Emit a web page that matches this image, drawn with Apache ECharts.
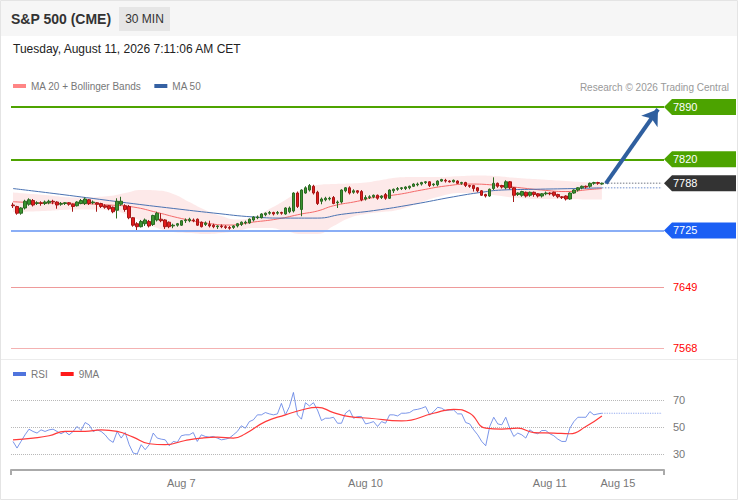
<!DOCTYPE html>
<html>
<head>
<meta charset="utf-8">
<script src="https://cdn.jsdelivr.net/npm/echarts@6/dist/echarts.min.js"></script>
<style>html,body{margin:0;padding:0;background:#fff}#c{width:738px;height:500px}</style>
</head>
<body>
<div id="c"></div>
<script>
const FONT = "'Liberation Sans', Arial, Helvetica, sans-serif";

// x axis
const categoryCount = 163;
const xTickIndex = [42, 88, 134, 151];
const xTickLabels = ['Aug 7', 'Aug 10', 'Aug 11', 'Aug 15'];

// candles: [open, close, low, high]
const candles = [
  [7759,7758,7755,7762],[7757,7748,7746,7758],[7748,7755,7746,7756],[7755,7764,7753,7766],[7760,7766,7758,7768],
  [7765,7759,7757,7767],[7761,7762,7759,7764],[7762,7761,7758,7764],[7761,7763,7759,7765],[7762,7764,7760,7766],
  [7764,7763,7760,7766],[7763,7759,7754,7764],[7760,7761,7758,7763],[7761,7762,7759,7763],[7762,7760,7758,7763],
  [7760,7757,7750,7761],[7758,7763,7757,7764],[7761,7765,7760,7767],[7761,7767,7759,7769],[7766,7761,7759,7767],
  [7762,7763,7760,7765],[7762,7760,7750,7763],[7761,7757,7755,7762],[7758,7756,7754,7760],[7758,7754,7752,7759],
  [7756,7750,7748,7757],[7752,7764,7741,7768],[7760,7764,7758,7770],[7758,7753,7750,7760],[7757,7742,7740,7759],
  [7742,7732,7730,7743],[7734,7730,7723,7736],[7730,7737,7729,7739],[7734,7739,7731,7741],[7737,7731,7729,7739],
  [7733,7745,7731,7746],[7739,7748,7737,7750],[7740,7738,7736,7748],[7739,7730,7727,7740],[7736,7730,7728,7737],
  [7731,7732,7728,7734],[7732,7734,7730,7735],[7732,7738,7731,7739],[7738,7739,7735,7741],[7738,7740,7736,7742],
  [7739,7738,7736,7741],[7740,7732,7731,7741],[7736,7730,7729,7737],[7733,7735,7731,7737],[7733,7731,7729,7738],
  [7732,7730,7728,7734],[7730,7731,7727,7732],[7731,7730,7728,7733],[7730,7729,7727,7732],[7729,7728,7726,7731],
  [7729,7731,7727,7732],[7731,7734,7729,7735],[7733,7736,7731,7737],[7735,7736,7733,7738],[7735,7740,7734,7741],
  [7739,7743,7737,7744],[7742,7743,7740,7745],[7742,7747,7741,7748],[7746,7748,7744,7749],[7748,7749,7746,7751],
  [7749,7747,7745,7750],[7748,7749,7746,7751],[7749,7748,7746,7750],[7747,7755,7746,7756],[7750,7755,7748,7757],
  [7751,7775,7749,7776],[7775,7757,7755,7777],[7753,7779,7744,7780],[7775,7782,7774,7784],[7779,7785,7777,7787],
  [7784,7775,7773,7786],[7776,7761,7759,7778],[7764,7767,7760,7769],[7766,7768,7764,7770],[7767,7768,7765,7770],
  [7769,7761,7760,7771],[7762,7763,7755,7765],[7763,7779,7761,7780],[7778,7782,7776,7783],[7782,7775,7773,7784],
  [7776,7778,7774,7780],[7778,7776,7774,7779],[7777,7766,7764,7779],[7767,7769,7765,7772],[7769,7770,7767,7772],
  [7770,7772,7768,7773],[7772,7768,7766,7773],[7769,7771,7767,7772],[7773,7768,7766,7775],[7768,7779,7767,7780],
  [7778,7780,7775,7781],[7780,7781,7778,7783],[7781,7782,7779,7783],[7781,7783,7779,7784],[7782,7784,7780,7785],
  [7784,7787,7783,7788],[7786,7787,7784,7789],[7787,7789,7785,7790],[7789,7790,7787,7791],[7790,7785,7783,7791],
  [7786,7787,7784,7788],[7786,7791,7784,7792],[7791,7793,7790,7794],[7792,7791,7789,7794],[7791,7790,7789,7792],
  [7790,7792,7789,7793],[7791,7788,7787,7792],[7788,7789,7786,7790],[7789,7785,7783,7790],[7785,7784,7782,7786],
  [7785,7781,7777,7786],[7782,7778,7776,7783],[7778,7772,7771,7779],[7773,7771,7769,7774],[7771,7780,7770,7781],
  [7781,7788,7779,7796],[7788,7784,7782,7789],[7785,7783,7781,7786],[7782,7790,7780,7792],[7790,7782,7780,7791],
  [7782,7772,7763,7783],[7773,7775,7771,7776],[7772,7777,7770,7778],[7776,7771,7769,7777],[7772,7776,7770,7777],
  [7776,7773,7770,7777],[7774,7771,7769,7775],[7771,7774,7769,7775],[7774,7775,7772,7777],[7775,7774,7772,7776],
  [7776,7772,7770,7777],[7773,7770,7768,7774],[7770,7769,7767,7771],[7771,7767,7765,7772],[7767,7775,7766,7776],
  [7775,7779,7774,7780],[7779,7782,7777,7783],[7782,7784,7780,7785],[7784,7783,7781,7785],[7784,7788,7782,7789],
  [7788,7789,7786,7790],[7789,7788,7786,7790],[7787,7788,7786,7789]
];

// Bollinger bands (sampled)
const bandIdx   = [0,8,16,24,28,32,36,40,44,48,52,56,60,64,68,72,76,80,84,88,92,96,100,106,112,116,120,126,132,138,144,147];
const bandUpper = [7775.7,7772.3,7769.0,7771.0,7775.0,7779.0,7778.4,7773.7,7763.0,7752.3,7744.3,7739.6,7742.9,7753.6,7765.7,7779.0,7785.7,7787.0,7787.7,7789.1,7792.4,7795.7,7796.4,7796.4,7797.7,7798.4,7797.7,7795.1,7793.1,7791.1,7789.1,7788.4];
const bandLower = [7749.6,7751.0,7753.0,7752.3,7746.9,7737.6,7728.2,7722.9,7721.5,7720.2,7721.5,7724.2,7728.2,7728.2,7724.2,7720.2,7720.2,7730.9,7741.6,7746.9,7749.6,7752.3,7759.0,7769.7,7775.0,7775.0,7772.3,7768.3,7767.0,7767.0,7766.3,7766.3];

// MA 20
const ma20Idx = [0,8,16,24,30,36,42,48,54,60,66,72,76,80,86,90,96,102,108,114,120,126,132,138,144,147];
const ma20Val = [7763.4,7761.6,7761,7759,7756.3,7749,7741,7735,7732.2,7736.2,7740.3,7747,7751,7758,7764,7769,7773,7779,7784.4,7787,7785.7,7782.4,7779,7777,7779.7,7781];

// MA 50
const ma50Idx = [0,10,20,30,40,50,60,68,76,82,90,100,110,117,122,130,140,147];
const ma50Val = [7781,7774.5,7767.7,7760.8,7754.4,7748.3,7743,7741.5,7741.5,7746.5,7751.5,7760,7770,7776,7779,7780,7781,7782];

// RSI
const rsi = [
  39.3,34.4,39.3,44.2,48.4,46.7,45.5,47.9,46.7,47.9,
  48.4,46.7,45,46.7,44.2,46.7,50.4,47.4,53.3,51.6,
  46.7,47.9,46.7,44.2,40.5,38.6,46.7,41.8,45.9,36.9,
  30.7,30,36.9,33.2,36.9,45.5,41.8,41,40.5,36.1,
  39.3,38.6,43.5,44.2,44.2,45.9,39.3,44.2,43,42.5,
  43,41.8,40.5,41,41.8,44.2,46.7,50.9,49.1,54,
  55.3,59,59,60.7,59.7,59,59.7,67.5,59,65.1,
  75.6,59,55.8,68,65.6,68,62.6,54.8,56.5,56.5,
  57.2,52.8,52.8,60.2,62.6,56.5,57.7,57.7,52.3,53,
  54,50.4,54,52.8,59,59,58.2,60.2,60.2,60.7,
  62.6,63.1,63.9,65.1,59,61.4,64.6,63.9,62.1,62.6,
  62.6,59.7,59.7,53.3,52.3,47.9,44.2,39.3,36.1,50.4,
  57.2,52.3,51.6,57.2,49.1,43,45.5,44.2,41.8,47.9,
  45.9,45,47.4,47.4,45,43.5,41,39.3,39.3,49.1,
  54,57.2,57.2,57.2,61.4,59,59.7,60.2
];
const rsiMaIdx = [0,5,9,13,18,22,26,30,34,38,43,47,51,55,58,63,68,72,76,80,84,89,97,105,110,114,118,122,126,130,135,139,143,147];
const rsiMaVal = [40.5,41.8,43.5,46.7,46.7,47.9,46.7,42.5,37.6,36.9,40,41.8,42.5,41.8,45,54,59,62.6,64.6,60.7,57.7,56.5,54.5,60.2,63.1,60.2,49.1,48.4,49.1,45.9,45.5,45,50.4,58.2];

// projections / levels
const extIdx = [147, 162];
const lastPrice = 7788;
const ma50Last = 7782;
const rsiLast = 60.2;
const arrowFrom = [148, 7788];
const arrowTo = [161, 7887];
const tagLevels = [7890, 7820, 7788, 7725];
const tagColors = ['#4ca300', '#4ca300', '#333333', '#1b5ff4'];
const lineLevels = [7890, 7820, 7725];
const lineColors = ['#4ea300', '#4ea300', '#8aaef6'];
const redLevels = [7649, 7568];
const redLineColors = ['#ee9a9a', '#f4b2b2'];

const cats = [];
for (let i = 0; i < categoryCount; i++) cats.push('c' + i);
const pair = (idx, vals) => idx.map((x, k) => [x, vals[k]]);
const bandWidth = bandUpper.map((u, k) => +(u - bandLower[k]).toFixed(2));

const TAG = 'path://M0,8L8,0L72,0L72,16L8,16Z';

const chart = echarts.init(document.getElementById('c'), null, {renderer: 'svg'});
const option = {
  animation: false,
  backgroundColor: '#ffffff',
  textStyle: {fontFamily: FONT},
  graphic: [
    {type: 'rect', z: -10, shape: {x: 0.5, y: 0.5, width: 737, height: 499}, style: {fill: '#ffffff', stroke: '#e4e4e4', lineWidth: 1}},
    {type: 'rect', z: -9, shape: {x: 1, y: 1, width: 736, height: 35}, style: {fill: '#f6f6f6'}},
    {type: 'rect', z: -8, shape: {x: 119, y: 7, width: 51, height: 24}, style: {fill: '#e6e6e6'}},
    {type: 'text', x: 11, y: 19, style: {text: 'S&P 500 (CME)', fill: '#333333', fontSize: 14, fontWeight: 'bold', fontFamily: FONT, verticalAlign: 'middle'}},
    {type: 'text', x: 144.5, y: 19, style: {text: '30 MIN', fill: '#333333', fontSize: 12, fontFamily: FONT, align: 'center', verticalAlign: 'middle'}},
    {type: 'text', x: 13, y: 49, style: {text: 'Tuesday, August 11, 2026 7:11:06 AM CET', fill: '#222222', fontSize: 12, fontFamily: FONT, verticalAlign: 'middle'}},
    {type: 'text', x: 729, y: 87, style: {text: 'Research \u00a9 2026 Trading Central', fill: '#999999', fontSize: 10, fontFamily: FONT, align: 'right', verticalAlign: 'middle'}},
    {type: 'line', z: -7, shape: {x1: 1, y1: 359.5, x2: 737, y2: 359.5}, style: {stroke: '#ececec', lineWidth: 1}}
  ],
  legend: [
    {data: ['MA 20 + Bollinger Bands', 'MA 50'], left: 13, top: 81, padding: 0, itemGap: 13, itemWidth: 13, itemHeight: 4,
     icon: 'rect', selectedMode: false, textStyle: {color: '#777777', fontSize: 10, fontFamily: FONT}},
    {data: ['RSI', '9MA'], left: 13, top: 369, padding: 0, itemGap: 13, itemWidth: 13, itemHeight: 4,
     icon: 'rect', selectedMode: false, textStyle: {color: '#777777', fontSize: 10, fontFamily: FONT}}
  ],
  grid: [
    {left: 11, right: 74, top: 99.5, height: 254.4, outerBoundsMode: 'none', containLabel: false},
    {left: 11, right: 74, top: 400, height: 54, outerBoundsMode: 'none', containLabel: false}
  ],
  xAxis: [
    {type: 'category', gridIndex: 0, data: cats, boundaryGap: true, show: false},
    {type: 'category', gridIndex: 1, data: cats, boundaryGap: true, position: 'bottom', offset: 16,
     axisLine: {show: true, lineStyle: {color: '#aaaaaa', width: 2}},
     axisTick: {show: true, length: 5, interval: (i) => i === 0, lineStyle: {color: '#aaaaaa', width: 2}},
     axisLabel: {show: true, interval: (i) => xTickIndex.indexOf(i) >= 0,
       formatter: (v, i) => { const k = xTickIndex.indexOf(i); return k >= 0 ? xTickLabels[k] : ''; },
       color: '#777777', fontSize: 11, margin: 7, fontFamily: FONT},
     splitLine: {show: false}}
  ],
  yAxis: [
    {type: 'value', gridIndex: 0, min: 7560, max: 7900, show: false, splitLine: {show: false}},
    {type: 'value', gridIndex: 1, min: 30, max: 70, interval: 20, position: 'right',
     axisLine: {show: false}, axisTick: {show: false},
     axisLabel: {color: '#777777', fontSize: 11, margin: 9, fontFamily: FONT},
     splitLine: {show: true, lineStyle: {color: '#b8b8b8', type: 'dotted', width: 1}}}
  ],
  series: [
    {type: 'line', name: 'bbLower', xAxisIndex: 0, yAxisIndex: 0, data: pair(bandIdx, bandLower), stack: 'bb',
     smooth: 0.5, symbol: 'none', silent: true, lineStyle: {width: 0}, z: 1},
    {type: 'line', name: 'bbWidth', xAxisIndex: 0, yAxisIndex: 0, data: pair(bandIdx, bandWidth), stack: 'bb',
     smooth: 0.5, symbol: 'none', silent: true, lineStyle: {width: 0}, areaStyle: {color: 'rgba(245,140,140,0.27)'}, z: 1},
    {type: 'line', name: 'MA 20 + Bollinger Bands', xAxisIndex: 0, yAxisIndex: 0, data: pair(ma20Idx, ma20Val),
     smooth: 0.5, symbol: 'none', silent: true, color: '#ff8585', lineStyle: {width: 1, color: '#f46a6a'}, z: 2,
     markLine: {silent: true, animation: false, symbol: ['none', 'none'], label: {show: false},
       data: lineLevels.map((v, k) => ({yAxis: v, lineStyle: {color: lineColors[k], width: 2, type: 'solid'}}))
         .concat(redLevels.map((v, k) => ({yAxis: v, lineStyle: {color: redLineColors[k], width: 1, type: 'solid'},
           label: {show: true, position: 'end', distance: 9, color: '#ff0000', fontSize: 11, fontFamily: FONT, formatter: String(v)}})))}},
    {type: 'line', name: 'MA 50', xAxisIndex: 0, yAxisIndex: 0, data: pair(ma50Idx, ma50Val),
     smooth: 0.5, symbol: 'none', silent: true, color: '#3561a3', lineStyle: {width: 1, color: '#4a72b2'}, z: 2},
    {type: 'line', name: 'ma50ext', xAxisIndex: 0, yAxisIndex: 0, data: pair(extIdx, [ma50Last, ma50Last]),
     symbol: 'none', silent: true, lineStyle: {width: 1.5, color: '#9fb3dc', type: 'dotted'}, z: 2,
     markLine: {silent: true, animation: false, symbol: ['none', 'arrow'], symbolSize: 15, label: {show: false},
       lineStyle: {color: '#2f5f9f', width: 4, type: 'solid'},
       data: [[{coord: arrowFrom}, {coord: arrowTo}]]}},
    {type: 'line', name: 'lastext', xAxisIndex: 0, yAxisIndex: 0, data: pair(extIdx, [lastPrice, lastPrice]),
     symbol: 'none', silent: true, lineStyle: {width: 1.5, color: '#a0a4ac', type: 'dotted'}, z: 2},
    {type: 'candlestick', name: 'S&P 500', xAxisIndex: 0, yAxisIndex: 0, data: candles, barWidth: 3, silent: true, z: 3,
     itemStyle: {color: '#3a9430', color0: '#e21c1c', borderColor: '#2b6a22', borderColor0: '#a51616', borderWidth: 1},
     markLine: {silent: true, animation: false, symbol: ['none', TAG], symbolSize: [72, 16], symbolOffset: [0, [36, 0]], symbolRotate: [0, 0],
       label: {show: true, position: 'end', distance: 9, color: '#ffffff', fontSize: 11, fontFamily: FONT},
       data: tagLevels.map((v, k) => ({yAxis: v, lineStyle: {color: tagColors[k], width: 0, type: 'solid'},
         label: {formatter: String(v)}}))}},
    {type: 'line', name: 'RSI', xAxisIndex: 1, yAxisIndex: 1, data: rsi, symbol: 'none', silent: true, clip: false,
     color: '#4f74dd', lineStyle: {width: 1, color: 'rgba(90,124,228,0.8)'}, z: 2},
    {type: 'line', name: 'rsiext', xAxisIndex: 1, yAxisIndex: 1, data: pair(extIdx, [rsiLast, rsiLast]), symbol: 'none',
     silent: true, lineStyle: {width: 1.2, color: '#93a9ee', type: 'dotted'}, z: 2},
    {type: 'line', name: '9MA', xAxisIndex: 1, yAxisIndex: 1, data: pair(rsiMaIdx, rsiMaVal), smooth: 0.5, symbol: 'none',
     silent: true, clip: false, color: '#ff1a1a', lineStyle: {width: 1.2, color: '#ff3a3a'}, z: 3}
  ]
};
chart.setOption(option);
</script>
</body>
</html>
